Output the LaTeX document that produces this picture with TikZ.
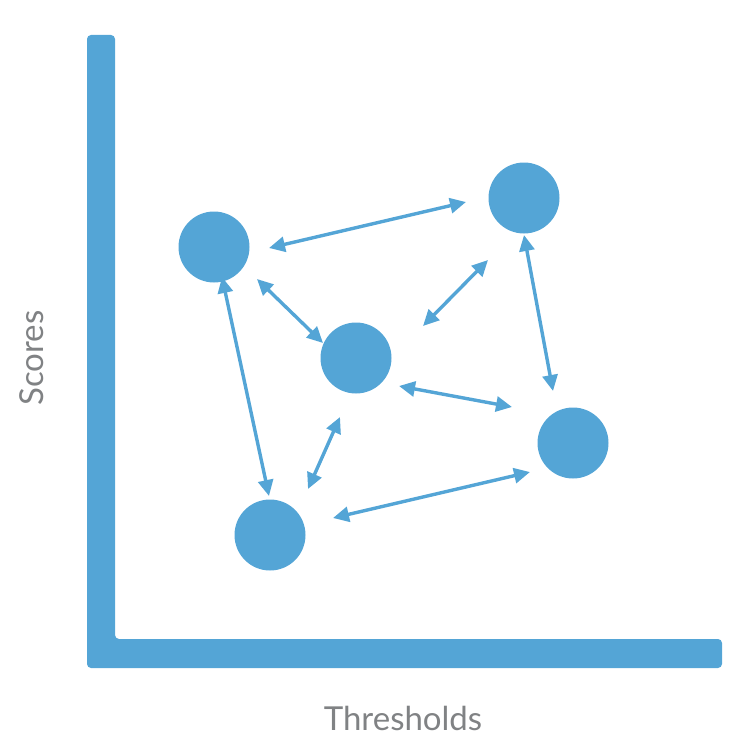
\documentclass[tikz,border=0pt]{standalone}
\usepackage{fontspec}
\setmainfont{Lato}
\usetikzlibrary{arrows.meta}
\definecolor{blu}{RGB}{84,165,214}
\definecolor{txt}{RGB}{128,130,132}
\tikzset{
  dot/.style={circle,fill=blu,draw=none,minimum size=71pt,inner sep=0pt},
  link/.style={draw=blu,line width=3.4pt,{Triangle[length=16pt,width=15pt]}-{Triangle[length=16pt,width=15pt]}},
  axislabel/.style={text=txt,font=\fontsize{33}{40}\selectfont,inner sep=0pt}
}
\begin{document}
\begin{tikzpicture}[x=1pt,y=-1pt]
\useasboundingbox (0,0) rectangle (746,752);
\fill[blu,rounded corners=4pt] (87,35) -- (115,35) -- (115,639) -- (722,639) -- (722,668) -- (87,668) -- cycle;
\node[dot] (c1) at (214,247) {};
\node[dot] (c2) at (524,198) {};
\node[dot] (c3) at (356,358) {};
\node[dot] (c4) at (573,443) {};
\node[dot] (c5) at (270,535) {};
\coordinate (a1s) at (269,248); \coordinate (a1e) at (466,202);
\coordinate (a2s) at (257,279); \coordinate (a2e) at (323,343);
\coordinate (a3s) at (423,326); \coordinate (a3e) at (488,260);
\coordinate (a4s) at (524,235); \coordinate (a4e) at (553,391);
\coordinate (a5s) at (399,386); \coordinate (a5e) at (512,407);
\coordinate (a6s) at (222,277); \coordinate (a6e) at (269,496);
\coordinate (a7s) at (308,489); \coordinate (a7e) at (340,417);
\coordinate (a8s) at (333,518); \coordinate (a8e) at (530,472);
\draw[link] (a1s) -- (a1e);
\draw[link] (a2s) -- (a2e);
\draw[link] (a3s) -- (a3e);
\draw[link] (a4s) -- (a4e);
\draw[link] (a5s) -- (a5e);
\draw[link] (a6s) -- (a6e);
\draw[link] (a7s) -- (a7e);
\draw[link] (a8s) -- (a8e);
\node[axislabel,anchor=base] (xl) at (403,730) {Thresholds};
\node[axislabel,anchor=base,rotate=90] (yl) at (43,358) {Scores};
\end{tikzpicture}
\end{document}
